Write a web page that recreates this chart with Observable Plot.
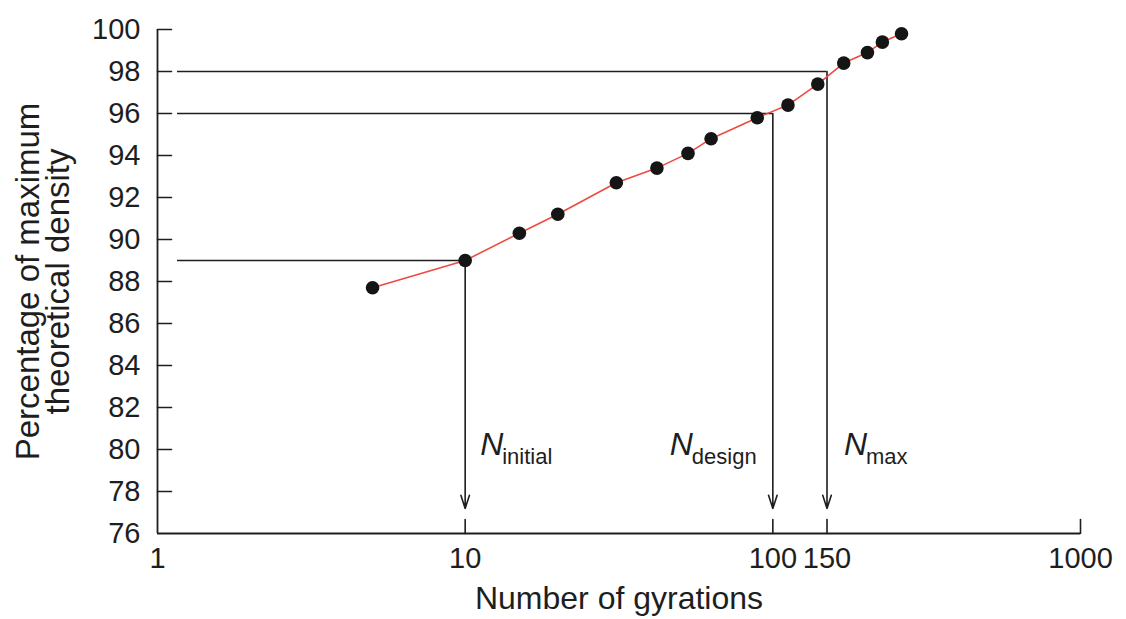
<!DOCTYPE html>
<html><head><meta charset="utf-8">
<script src="https://cdn.jsdelivr.net/npm/d3@7"></script>
<script src="https://cdn.jsdelivr.net/npm/@observablehq/plot@0.6"></script>
<style>body{margin:0;background:#fff;} svg{display:block}</style>
</head><body><div id="chart"></div>
<script>
// Data
const gyrations = [5, 10, 15, 20, 31, 42, 53, 63, 89, 112, 140, 170, 203, 227, 262];
const density = [87.7, 89.0, 90.3, 91.2, 92.7, 93.4, 94.1, 94.8, 95.8, 96.4, 97.4, 98.4, 98.9, 99.4, 99.8];
const refNames = ["initial", "design", "max"];
const refGyrations = [10, 100, 150];
const refDensity = [89, 96, 98];
const xTicks = [1, 10, 100, 150, 1000];
const yTicks = [76, 78, 80, 82, 84, 86, 88, 90, 92, 94, 96, 98, 100];
const labelDensity = 80;

const data = gyrations.map((g, i) => ({g, d: density[i]}));
const refs = refNames.map((n, i) => ({name: n, x: refGyrations[i], y: refDensity[i]}));

const ink = "#1e1e1e";
const font = "'Liberation Sans', Arial, Helvetica, sans-serif";
const tickShape = {draw(context, l) { context.moveTo(0, 0); context.lineTo(0, -l); }};

// per-label horizontal offsets (px) of the "N" glyph from its reference line
const nOffset = {initial: 15, design: -103, max: 17};
const labelMarks = refs.flatMap((r) => [
  Plot.text([r], {x: "x", y: () => labelDensity, text: () => "N", fontStyle: "italic", fontSize: 32,
    textAnchor: "start", lineAnchor: "bottom", dx: nOffset[r.name], dy: 5, fill: ink}),
  Plot.text([r], {x: "x", y: () => labelDensity, text: "name", fontSize: 22,
    textAnchor: "start", lineAnchor: "bottom", dx: nOffset[r.name] + 22, dy: 14, fill: ink, letterSpacing: -0.3})
]);

const plot = Plot.plot({
  width: 1126, height: 619,
  marginLeft: 157, marginRight: 46, marginTop: 29, marginBottom: 86,
  style: {fontFamily: font, background: "#fff", color: ink},
  x: {type: "log", domain: [1, 1000]},
  y: {domain: [76, 100]},
  marks: [
    Plot.ruleY(refs, {y: "y", x1: 1, x2: "x", insetLeft: 20, stroke: ink, strokeWidth: 1.6}),
    Plot.arrow(refs, {x1: "x", y1: "y", x2: "x", y2: () => 76, insetEnd: 25, stroke: ink,
      strokeWidth: 1.6, headLength: 13, headAngle: 36}),
    Plot.line(data, {x: "g", y: "d", stroke: "#ee4a40", strokeWidth: 1.6}),
    Plot.dot(data, {x: "g", y: "d", r: 6.8, fill: "#151515"}),
    Plot.ruleX([1], {stroke: ink, strokeWidth: 1.8}),
    Plot.ruleY([76], {stroke: ink, strokeWidth: 1.8}),
    Plot.vector(yTicks.filter((v) => v > 76), {y: (d) => d, frameAnchor: "left", length: 14, rotate: 90,
      anchor: "start", shape: tickShape, stroke: ink, strokeWidth: 1.6}),
    Plot.vector(xTicks.filter((v) => v > 1), {x: (d) => d, frameAnchor: "bottom", length: 14, rotate: 0,
      anchor: "start", shape: tickShape, stroke: ink, strokeWidth: 1.6}),
    Plot.axisY({ticks: yTicks, tickSize: 0, tickPadding: 17, fontSize: 29, label: null, tickFormat: (d) => String(d)}),
    Plot.axisX({ticks: xTicks, tickSize: 0, tickPadding: 14, fontSize: 29, label: null, tickFormat: (d) => String(d)}),
    Plot.text(["Number of gyrations"], {frameAnchor: "bottom", dy: 75, fontSize: 32, fill: ink}),
    Plot.text(["Percentage of maximum\ntheoretical density"], {frameAnchor: "left", textAnchor: "middle",
      rotate: -90, dx: -113, fontSize: 33, lineHeight: 0.92, fill: ink}),
    ...labelMarks
  ]
});
document.getElementById("chart").append(plot);
</script>
</body></html>
